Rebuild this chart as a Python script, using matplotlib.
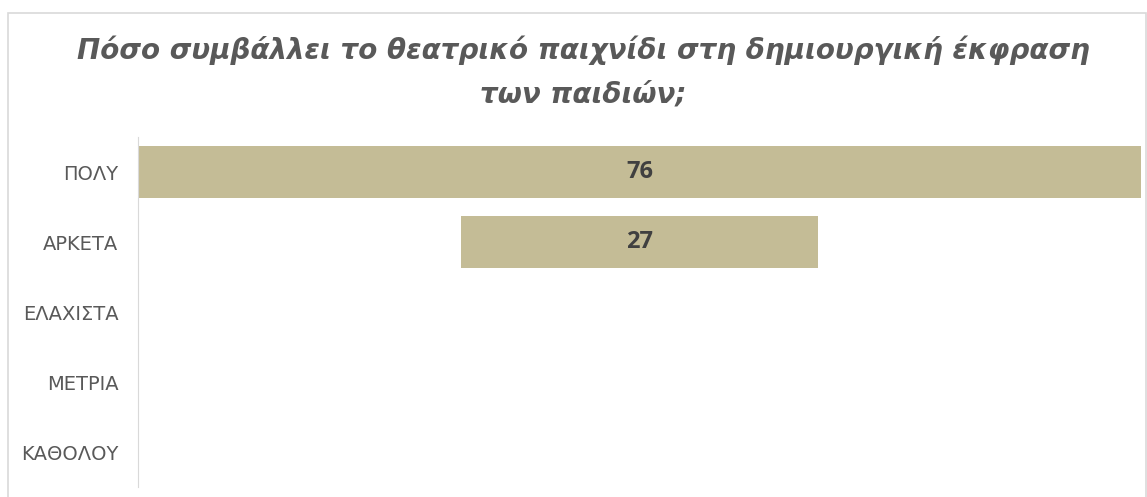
import matplotlib.pyplot as plt
from matplotlib.patches import Rectangle

categories = ["ΠΟΛΥ", "ΑΡΚΕΤΑ", "ΕΛΑΧΙΣΤΑ", "ΜΕΤΡΙΑ", "ΚΑΘΟΛΟΥ"]
values = [76, 27, 0, 0, 0]
title_lines = ["Πόσο συμβάλλει το θεατρικό παιχνίδι στη δημιουργική έκφραση",
               "των παιδιών;"]

W, H = 1147, 497
fig = plt.figure(figsize=(W / 100, H / 100), dpi=100)
ax = fig.add_axes([138 / W, 10 / H, (1141 - 138) / W, 350 / H])

# outer chart frame
fig.patches.append(Rectangle((8 / W, -0.1), (1146 - 8) / W, 1.1 - 13 / H,
                             transform=fig.transFigure, fill=False,
                             edgecolor="#d9d9d9", lw=1.2))

vmax = max(values)
y = list(range(len(categories)))
lefts = [(vmax - v) / 2 for v in values]
ax.barh(y, values, left=lefts, height=0.74, color="#c4bc96")

for yi, v, l in zip(y, values, lefts):
    if v > 0:
        ax.text(l + v / 2, yi, str(v), ha="center", va="center",
                fontsize=17, fontweight="bold", color="#404040",
                family="Open Sans")

ax.set_xlim(0, vmax)
ax.set_ylim(len(categories) - 0.5, -0.5)
ax.set_yticks(y)
ax.set_yticklabels(categories, fontsize=14, color="#595959", family="DejaVu Sans")
ax.tick_params(axis="y", length=0, pad=14)
ax.set_xticks([])
for s in ["top", "right", "bottom"]:
    ax.spines[s].set_visible(False)
ax.spines["left"].set_color("#d9d9d9")

# title, one text per line so the baselines sit where the reference has them
for line, base in zip(title_lines, [59, 103]):
    fig.text(583 / W, 1 - base / H, line, ha="center", va="baseline",
             fontsize=20, fontweight="bold", style="italic", color="#595959",
             family="DejaVu Sans")

fig.savefig("out.png", dpi=100)
